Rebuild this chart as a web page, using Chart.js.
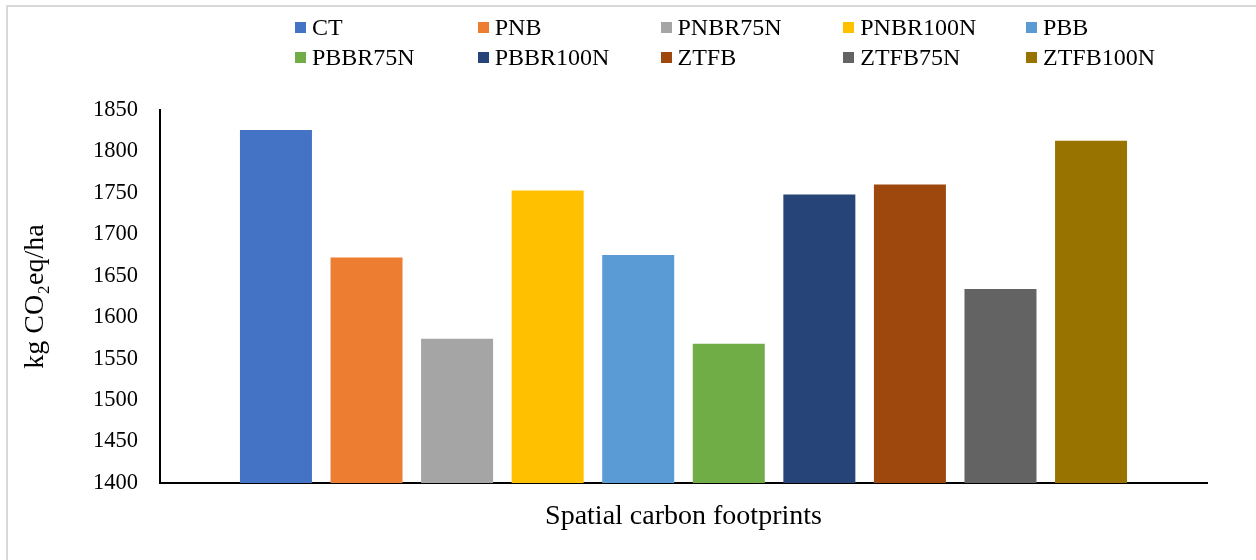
<!DOCTYPE html>
<html>
<head>
<meta charset="utf-8">
<script src="https://cdn.jsdelivr.net/npm/chart.js@4/dist/chart.umd.min.js"></script>
<style>
  html, body { margin: 0; padding: 0; background: #fff; }
  #wrap { position: relative; width: 1256px; height: 560px; overflow: hidden; }
  #frame { position: absolute; left: 6px; top: 5px; width: 1400px; height: 700px;
           border-left: 2px solid #d9d9d9; border-top: 2px solid #d9d9d9; }
  #legend { position: absolute; left: 0; top: 0; font-family: "Liberation Serif", "Times New Roman", serif;
            font-size: 24px; color: #000; }
  .item { position: absolute; white-space: nowrap; line-height: 24px; }
  .box { display: inline-block; width: 11px; height: 11px; margin-right: 6px; vertical-align: 2px; }
  canvas { position: absolute; left: 0; top: 0; }
</style>
</head>
<body>
<div id="wrap">
  <div id="frame"></div>
  <canvas id="chart" width="1256" height="560"></canvas>
  <div id="legend"></div>
</div>
<script>
// 処理区ごとのカーボンフットプリント
var categories = ["Spatial carbon footprints"]
var series = ["CT", "PNB", "PNBR75N", "PNBR100N", "PBB", "PBBR75N", "PBBR100N", "ZTFB", "ZTFB75N", "ZTFB100N"]
var values = [1826, 1672, 1574, 1753, 1675, 1568, 1748, 1760, 1634, 1813]
var colors = ["#4472C4", "#ED7D31", "#A5A5A5", "#FFC000", "#5B9BD5", "#70AD47", "#264478", "#9E480E", "#636363", "#997300"]
var yTicks = { min: 1400, max: 1850, step: 50 }

var font = "'Liberation Serif', 'Times New Roman', serif"

var datasets = []
for (var i = 0; i < series.length; i++) {
  datasets.push({
    label: series[i],
    data: [values[i]],
    backgroundColor: colors[i],
    categoryPercentage: 0.865,
    barPercentage: 0.795
  })
}

// 凡例 (5列 x 2行)
var legend = document.getElementById("legend")
for (var i = 0; i < series.length; i++) {
  var col = i % 5, row = Math.floor(i / 5)
  var el = document.createElement("div")
  el.className = "item"
  el.style.left = (295 + col * 182.75) + "px"
  el.style.top = (15 + row * 30) + "px"
  el.innerHTML = '<span class="box" style="background:' + colors[i] + '"></span>' + series[i]
  legend.appendChild(el)
}

var ctx = document.getElementById("chart")
var chart = new Chart(ctx, {
  type: 'bar',
  data: { labels: categories, datasets: datasets },
  options: {
    responsive: false,
    animation: false,
    layout: { padding: { top: 110, right: 49, left: 0, bottom: 0 } },
    plugins: { legend: { display: false }, tooltip: { enabled: false } },
    scales: {
      x: {
        grid: { display: false, drawTicks: false },
        border: { display: true, color: '#000', width: 2 },
        ticks: { color: '#000', padding: 17, font: { family: font, size: 28 } },
        afterFit: function (s) { s.height = 77 }
      },
      y: {
        min: yTicks.min,
        max: yTicks.max,
        grid: { display: false, drawTicks: false },
        border: { display: true, color: '#000', width: 2 },
        ticks: {
          stepSize: yTicks.step, color: '#000', padding: 22, font: { family: font, size: 22.5 },
          callback: function (v) { return String(v) }
        },
        title: {
          display: true,
          text: 'kg CO\u2082eq/ha',
          color: '#000',
          padding: { top: 19, bottom: 0 },
          font: { family: font, size: 28 }
        },
        afterFit: function (s) { s.width = 160 }
      }
    }
  }
})
</script>
</body>
</html>
